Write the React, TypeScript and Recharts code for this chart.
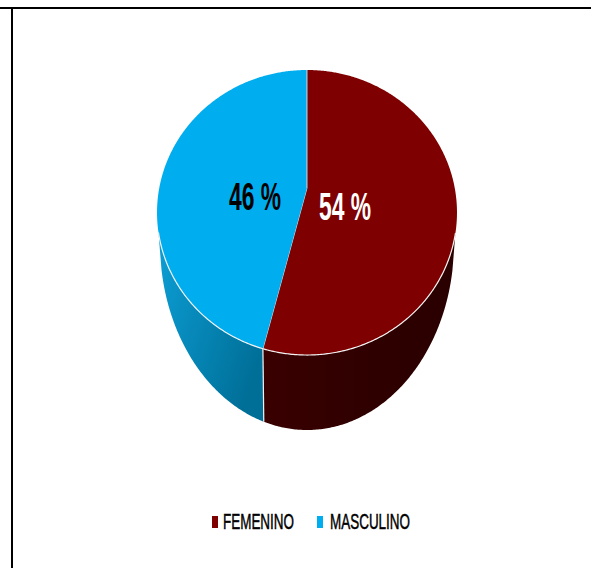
import React from 'react';
import { PieChart, Pie, Legend } from 'recharts';

const genders = ['FEMENINO', 'MASCULINO'];
const shares = [54, 46];
const topColors = ['#7F0000', '#00AEEF'];
const labelColors = ['#FFFFFF', '#000000'];

const data = genders.map((name, i) => ({ name, value: shares[i], fill: topColors[i] }));

const WIDTH = 591;
const HEIGHT = 568;
const CX = 307;
const CY = 188;
const RADIUS = 150;

// tilt of the disc: the far half is foreshortened, the near half stretched
const TILT = 0.172;
const SCALE_X = 0.985;
const SCALE_Y = 0.922;

// lower edge of the drum
const BASE_CY = 243;
const BASE_RX = 147;
const BASE_RY = 187;
const WALL_LIMIT = -0.3;

const rad = (deg: number) => (deg * Math.PI) / 180;

const rimPoint = (deg: number, r = RADIUS, cx = CX, cy = CY) => {
  const u = Math.cos(rad(deg)) * (r / RADIUS);
  const v = Math.sin(rad(deg)) * (r / RADIUS);
  const w = 1 + TILT * v;
  return { x: cx + (RADIUS * SCALE_X * u) / w, y: cy - (RADIUS * SCALE_Y * v) / w, v };
};

const basePoint = (deg: number, cx: number) => {
  const rim = rimPoint(deg, RADIUS, cx);
  const dx = Math.max(-BASE_RX, Math.min(BASE_RX, (rim.x - cx) * 0.98));
  return { x: cx + dx, y: BASE_CY + BASE_RY * Math.sqrt(1 - (dx / BASE_RX) ** 2) };
};

const toPath = (pts: { x: number; y: number }[]) =>
  pts.map((p, i) => `${i ? 'L' : 'M'}${p.x.toFixed(2)} ${p.y.toFixed(2)}`).join(' ') + ' Z';

const DrumSector = (props: any) => {
  const { cx, outerRadius, startAngle, endAngle, fill, index } = props;
  const angles: number[] = [];
  const n = Math.ceil(Math.abs(endAngle - startAngle) * 2);
  for (let i = 0; i <= n; i++) angles.push(startAngle + ((endAngle - startAngle) * i) / n);

  const top = angles.map((a) => rimPoint(a, outerRadius, cx));
  const front = angles.filter((a) => rimPoint(a, outerRadius, cx).v <= WALL_LIMIT);
  const wall = [
    ...front.map((a) => rimPoint(a, outerRadius, cx)),
    ...[...front].reverse().map((a) => basePoint(a, cx)),
  ];
  const frontRim = front.map((a) => rimPoint(a, outerRadius, cx));
  const rimLine = frontRim.map((p, i) => `${i ? 'L' : 'M'}${p.x.toFixed(2)} ${p.y.toFixed(2)}`).join(' ');
  const seam = basePoint(startAngle, cx);
  const seamTop = rimPoint(startAngle, outerRadius, cx);

  return (
    <g>
      <path d={toPath(wall)} fill={`url(#wall-${index})`} />
      <path d={toPath([{ x: cx, y: CY }, ...top])} fill={fill} />
      <path d={rimLine} fill="none" stroke="#F2F2F2" strokeWidth={1.2} />
      <path
        d={`M${cx} ${CY} L${rimPoint(endAngle, outerRadius, cx).x} ${rimPoint(endAngle, outerRadius, cx).y}`}
        stroke="#E8F4FA"
        strokeWidth={0.8}
      />
      {index === 1 && (
        <path
          d={`M${seamTop.x} ${seamTop.y} L${seam.x} ${seam.y}`}
          stroke="#F2F2F2"
          strokeWidth={1.2}
        />
      )}
    </g>
  );
};

const labelSpots = [
  { x: 345, y: 220, width: 52 },
  { x: 255, y: 210, width: 52 },
];

const PercentLabel = (props: any) => {
  const { index, value } = props;
  const spot = labelSpots[index];
  return (
    <text
      x={spot.x}
      y={spot.y}
      fill={labelColors[index]}
      textAnchor="middle"
      fontFamily="'Liberation Sans Narrow', 'Liberation Sans', sans-serif"
      fontWeight="bold"
      fontSize={39}
      textLength={spot.width}
      lengthAdjust="spacingAndGlyphs"
    >
      {`${value} %`}
    </text>
  );
};

const legendSpots = [
  { box: 212, text: 223, width: 71 },
  { box: 317, text: 330, width: 80 },
];

const LegendRow = ({ payload }: any) => (
  <svg width={WIDTH} height={40} style={{ display: 'block' }}>
    {(payload || []).map((entry: any, i: number) => (
      <g key={entry.value}>
        <rect x={legendSpots[i].box} y={16} width={6} height={12} fill={topColors[i]} />
        <text
          x={legendSpots[i].text}
          y={29}
          fill="#000000"
          stroke="#000000"
          strokeWidth={0.5}
          fontFamily="'Liberation Sans Narrow', 'Liberation Sans', sans-serif"
          fontSize={22}
          textLength={legendSpots[i].width}
          lengthAdjust="spacingAndGlyphs"
        >
          {entry.value}
        </text>
      </g>
    ))}
  </svg>
);

export default function App() {
  return (
    <div style={{ position: 'absolute', left: 0, top: 0, width: WIDTH, height: HEIGHT, background: '#FFFFFF', overflow: 'hidden' }}>
      <div style={{ position: 'absolute', left: 0, top: 7, width: WIDTH, height: 2, background: '#000000' }} />
      <div style={{ position: 'absolute', left: 11, top: 7, width: 2, height: HEIGHT - 7, background: '#000000' }} />
      <PieChart width={WIDTH} height={HEIGHT} margin={{ top: 0, right: 0, bottom: 0, left: 0 }}>
        <defs>
          <linearGradient id="wall-0" x1="0" y1="0" x2="1" y2="0">
            <stop offset="0%" stopColor="#3A0000" />
            <stop offset="50%" stopColor="#300000" />
            <stop offset="100%" stopColor="#2A0000" />
          </linearGradient>
          <linearGradient id="wall-1" x1="0" y1="0" x2="1" y2="0.6">
            <stop offset="0%" stopColor="#0C9FD6" />
            <stop offset="100%" stopColor="#006F98" />
          </linearGradient>
        </defs>
        <Pie
          data={data}
          dataKey="value"
          nameKey="name"
          cx={CX}
          cy={CY}
          outerRadius={RADIUS}
          startAngle={90}
          endAngle={-270}
          stroke="none"
          shape={DrumSector}
          label={PercentLabel}
          labelLine={false}
          isAnimationActive={false}
        />
        <Legend content={LegendRow} wrapperStyle={{ left: 0, top: 500, width: WIDTH }} />
      </PieChart>
    </div>
  );
}
